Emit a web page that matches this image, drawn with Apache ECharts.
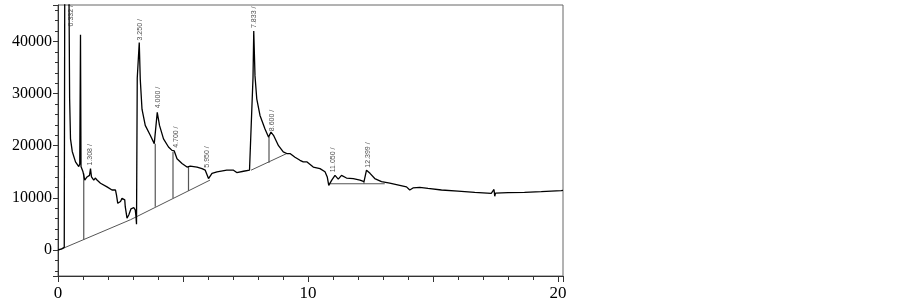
<!DOCTYPE html>
<html>
<head>
<meta charset="utf-8">
<script src="https://cdn.jsdelivr.net/npm/echarts@6/dist/echarts.min.js"></script>
<style>
  html, body { margin: 0; padding: 0; background: #fff; }
  #chart { width: 903px; height: 302px; }
</style>
</head>
<body>
<div id="chart"></div>
<script>
// chromatogram trace (time in min, signal)
const traceT = [0, 0.15, 0.25, 0.27, 0.31, 0.465, 0.50, 0.57, 0.70, 0.83, 0.87, 0.90, 0.92,
  1.00, 1.07, 1.16, 1.26, 1.30, 1.34, 1.43, 1.50, 1.56, 1.70, 1.96, 2.16, 2.30, 2.34, 2.39,
  2.50, 2.56, 2.63, 2.67, 2.69, 2.76, 2.83, 2.92, 3.03, 3.09, 3.12, 3.14, 3.17, 3.25, 3.29,
  3.36, 3.49, 3.69, 3.85, 3.90, 3.97, 4.06, 4.22, 4.42, 4.56, 4.65, 4.76, 4.96, 5.16, 5.29,
  5.56, 5.76, 5.89, 6.02, 6.16, 6.36, 6.75, 7.02, 7.15, 7.42, 7.66, 7.72, 7.80, 7.83, 7.88,
  7.95, 8.08, 8.28, 8.42, 8.52, 8.62, 8.82, 9.01, 9.15, 9.28, 9.48, 9.68, 9.81, 9.95, 10.21,
  10.48, 10.68, 10.77, 10.83, 10.95, 11.08, 11.21, 11.34, 11.54, 11.81, 12.08, 12.24, 12.34,
  12.48, 12.67, 12.94, 13.27, 13.67, 13.94, 14.07, 14.20, 14.47, 14.80, 15.34, 16.00, 16.67,
  17.33, 17.44, 17.47, 17.50, 18.00, 18.66, 19.33, 20.13, 20.2]
const traceV = [0, 200, 500, 600, 150000, 29000, 21300, 18900, 16900, 16000, 16500, 41300, 16000,
  15000, 13400, 14000, 14300, 15600, 14000, 13400, 13800, 13400, 12800, 12100, 11500, 11500, 10500, 8950,
  9300, 9900, 10200, 9600, 8300, 6100, 6700, 7900, 8100, 7700, 6400, 4950, 33000, 39800, 32800,
  27000, 23900, 22000, 20400, 20500, 26400, 23900, 21300, 19750, 19100, 19000, 17500, 16600, 15900, 16100,
  15900, 15600, 15300, 13700, 14700, 15000, 15300, 15300, 14850, 15100, 15300, 15400, 33000, 42000, 33400,
  29000, 25800, 23200, 21650, 22600, 22000, 20000, 18800, 18500, 18500, 17800, 17200, 16900, 16900, 15900,
  15600, 15000, 14000, 12400, 13400, 14300, 13600, 14300, 13800, 13700, 13400, 13100, 15300,
  14700, 13700, 13100, 12800, 12400, 12100, 11500, 11900, 12000, 11800, 11500, 11300, 11050,
  10850, 11600, 10300, 10900, 11000, 11050, 11200, 11400, 11450]

// integration baselines
const baseA = [[0.05, 0], [2.9, 5800], [6.08, 13400]]
const baseB = [[7.72, 15300], [9.15, 18500]]
const baseC = [[10.83, 12700], [13.07, 12700]]

// peak drop lines
const dropT = [1.03, 3.89, 4.60, 5.22, 8.44, 12.24]
const dropLow = [1950, 8300, 9900, 11300, 16750, 12700]
const dropHigh = [14700, 20400, 18800, 15900, 21650, 13100]

// retention time labels
const peakNames = ['0.332', '1.308', '3.250', '4.000', '4.700', '5.950', '7.833', '8.600', '11.050', '12.399']
const peakT = [0.52, 1.28, 3.27, 4.02, 4.73, 5.97, 7.83, 8.58, 11.01, 12.39]
const peakV = [42700, 16000, 40000, 27000, 19400, 15600, 42400, 22600, 14700, 15600]

const grey = '#555'
const serif = '"Liberation Serif", "DejaVu Serif", serif'

const series = [{
  type: 'line',
  data: traceT.map((t, i) => [t, traceV[i]]),
  showSymbol: false,
  symbol: 'none',
  clip: true,
  lineStyle: { color: '#000', width: 1.3 },
  z: 3
}]

;[baseA, baseB, baseC].forEach(seg => {
  series.push({
    type: 'line',
    data: seg,
    symbol: 'none',
    lineStyle: { color: grey, width: 1 },
    z: 2
  })
})

dropT.forEach((t, i) => {
  series.push({
    type: 'line',
    data: [[t, dropLow[i]], [t, dropHigh[i]]],
    symbol: 'none',
    lineStyle: { color: grey, width: 1.2 },
    z: 2
  })
})

series.push({
  type: 'scatter',
  symbolSize: 0,
  data: peakT.map((t, i) => ({ value: [t, peakV[i]], name: peakNames[i] })),
  label: {
    show: true,
    formatter: p => p.name + ' /',
    position: 'top',
    distance: 1,
    rotate: 90,
    align: 'left',
    verticalAlign: 'middle',
    fontSize: 7,
    fontFamily: '"Liberation Sans", Arial, sans-serif',
    color: '#222'
  },
  z: 4
})

const chart = echarts.init(document.getElementById('chart'))
chart.setOption({
  animation: false,
  grid: {
    left: 58,
    right: 340,
    top: 5,
    bottom: 24,
    show: true,
    borderColor: '#666',
    borderWidth: 1
  },
  xAxis: {
    type: 'value',
    min: 0,
    max: 20.2,
    interval: 5,
    axisLine: { onZero: false, lineStyle: { color: '#333' } },
    axisTick: { length: 6, lineStyle: { color: '#333' } },
    minorTick: { show: true, splitNumber: 5, length: 4, lineStyle: { color: '#333' } },
    splitLine: { show: false },
    axisLabel: {
      formatter: v => (v % 10 === 0 ? String(v) : ''),
      showMaxLabel: false,
      margin: 9,
      fontSize: 17,
      fontFamily: serif,
      color: '#000'
    }
  },
  yAxis: {
    type: 'value',
    min: -5000,
    max: 47000,
    axisLine: { show: true, onZero: false, lineStyle: { color: '#333' } },
    axisTick: { show: true, length: 5, lineStyle: { color: '#333' } },
    minorTick: { show: true, splitNumber: 5, length: 3, lineStyle: { color: '#333' } },
    splitLine: { show: false },
    axisLabel: {
      formatter: v => (v % 10000 === 0 ? String(v) : ''),
      showMinLabel: false,
      showMaxLabel: false,
      margin: 6,
      fontSize: 16,
      fontFamily: serif,
      color: '#000'
    }
  },
  series: series
})
</script>
</body>
</html>
